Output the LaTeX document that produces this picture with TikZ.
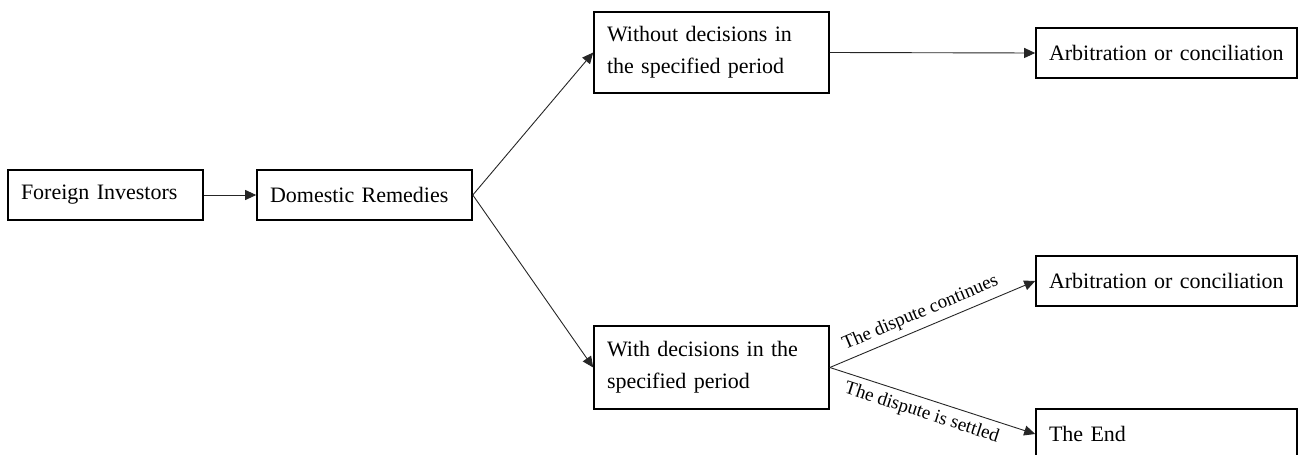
\documentclass[tikz,border=0pt]{standalone}
\usepackage{fontspec}
\setmainfont{Liberation Serif}
\usetikzlibrary{arrows.meta}
\newcommand{\boxfont}{\fontsize{22}{32}\selectfont}
\newcommand{\lblfont}{\fontsize{19}{22}\selectfont}
\tikzset{
  flowbox/.style={draw, line width=1.6pt, inner xsep=13pt, inner ysep=0pt, align=left, font=\boxfont},
  flowarrow/.style={draw=black!85, line width=0.9pt, -{Triangle[length=11pt,width=10pt]}},
  flowlabel/.style={font=\lblfont, sloped, inner sep=6pt}
}
\begin{document}
\begin{tikzpicture}[x=1pt,y=-1pt]
\useasboundingbox (0,0) rectangle (1304,455);
\clip (0,0) rectangle (1304,455);
\node[flowbox, text width=169pt, minimum height=50pt] (fi) at (105.5,195) {Foreign Investors};
\node[flowbox, text width=189pt, minimum height=50pt] (dr) at (364.5,195) {Domestic Remedies};
\node[flowbox, text width=209pt, minimum height=81pt] (wo) at (711.5,52.5) {Without decisions in\\the specified period};
\node[flowbox, text width=235pt, minimum height=50pt] (at) at (1166.5,53) {Arbitration or conciliation};
\node[flowbox, text width=209pt, minimum height=83pt] (wi) at (711.5,367.5) {With decisions in the\\specified period};
\node[flowbox, text width=235pt, minimum height=50pt] (ab) at (1166.5,281) {Arbitration or conciliation};
\node[flowbox, text width=235pt, minimum height=50pt] (en) at (1166.5,434) {The End};
\draw[flowarrow] (fi.east) -- (dr.west);
\draw[flowarrow] (dr.east) -- (wo.west);
\draw[flowarrow] (dr.east) -- (wi.west);
\draw[flowarrow] (wo.east) -- (at.west);
\draw[flowarrow] (wi.east) -- node[flowlabel, above, pos=0.47] (lc) {The dispute continues} (ab.west);
\draw[flowarrow] (wi.east) -- node[flowlabel, below, pos=0.47] (ls) {The dispute is settled} (en.west);
\end{tikzpicture}
\end{document}
